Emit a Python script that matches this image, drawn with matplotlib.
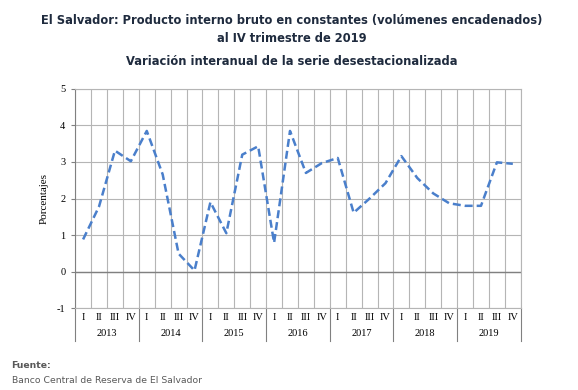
import matplotlib.pyplot as plt
from matplotlib import transforms

# Datos: variación interanual (%) por trimestre
anios = ['2013', '2014', '2015', '2016', '2017', '2018', '2019']
trimestres = ['I', 'II', 'III', 'IV']
variacion = [0.88, 1.78, 3.31, 3.02,
             3.85, 2.66, 0.49, 0.03,
             1.90, 1.05, 3.20, 3.43,
             0.79, 3.85, 2.70, 2.97,
             3.11, 1.61, 2.00, 2.42,
             3.16, 2.56, 2.14, 1.87,
             1.80, 1.80, 2.99, 2.95]
y_ticks = [-1, 0, 1, 2, 3, 4, 5]

serif = 'Liberation Serif'
titulo_color = '#1f2b3e'

fig = plt.figure(figsize=(5.78, 3.9), dpi=100)
ax = fig.add_axes([0.13, 0.21, 0.771, 0.562])

n = len(variacion)
x = [i + 0.5 for i in range(n)]
ax.plot(x, variacion, color='#4a7fcb', lw=1.8, ls=(0, (3.2, 1.6)))

ax.set_xlim(0, n)
ax.set_ylim(-1, 5)
ax.set_yticks(y_ticks)
ax.set_yticklabels([str(v) for v in y_ticks], fontfamily=serif, fontsize=7.5)
ax.set_xticks(range(n + 1))
ax.set_xticklabels([])
ax.tick_params(axis='x', length=0)
ax.tick_params(axis='y', length=3, color='#808080', pad=4)
ax.grid(True, color='#b5b5b5', lw=0.8)
ax.axhline(0, color='#808080', lw=1)
for s in ['top', 'right', 'bottom']:
    ax.spines[s].set_color('#b5b5b5')
    ax.spines[s].set_linewidth(0.8)
ax.spines['left'].set_color('#808080')
ax.set_ylabel('Porcentajes', fontfamily=serif, fontsize=8, labelpad=6)

# Etiquetas de dos niveles en el eje x
trans = transforms.blended_transform_factory(ax.transData, ax.transAxes)
for i in range(n):
    ax.text(i + 0.5, -0.045, trimestres[i % 4], transform=trans, ha='center', va='center',
            fontfamily=serif, fontsize=7.5)
for j, a in enumerate(anios):
    ax.text(j * 4 + 2, -0.115, a, transform=trans, ha='center', va='center',
            fontfamily=serif, fontsize=7.5)
for j in range(len(anios) + 1):
    ax.plot([j * 4, j * 4], [0, -0.15], transform=trans, color='#808080', lw=0.8,
            clip_on=False)

fig.text(0.505, 0.947, 'El Salvador: Producto interno bruto en constantes (volúmenes encadenados)',
         ha='center', va='center', fontsize=8.3, fontweight='bold', color=titulo_color)
fig.text(0.505, 0.9, 'al IV trimestre de 2019', ha='center', va='center',
         fontsize=8.3, fontweight='bold', color=titulo_color)
fig.text(0.505, 0.843, 'Variación interanual de la serie desestacionalizada', ha='center',
         va='center', fontsize=8.3, fontweight='bold', color=titulo_color)

fig.text(0.02, 0.063, 'Fuente:', ha='left', va='center', fontsize=6.7,
         fontweight='bold', color='#595959')
fig.text(0.02, 0.025, 'Banco Central de Reserva de El Salvador', ha='left', va='center',
         fontsize=6.7, color='#595959')

fig.savefig('out.png', dpi=100)
